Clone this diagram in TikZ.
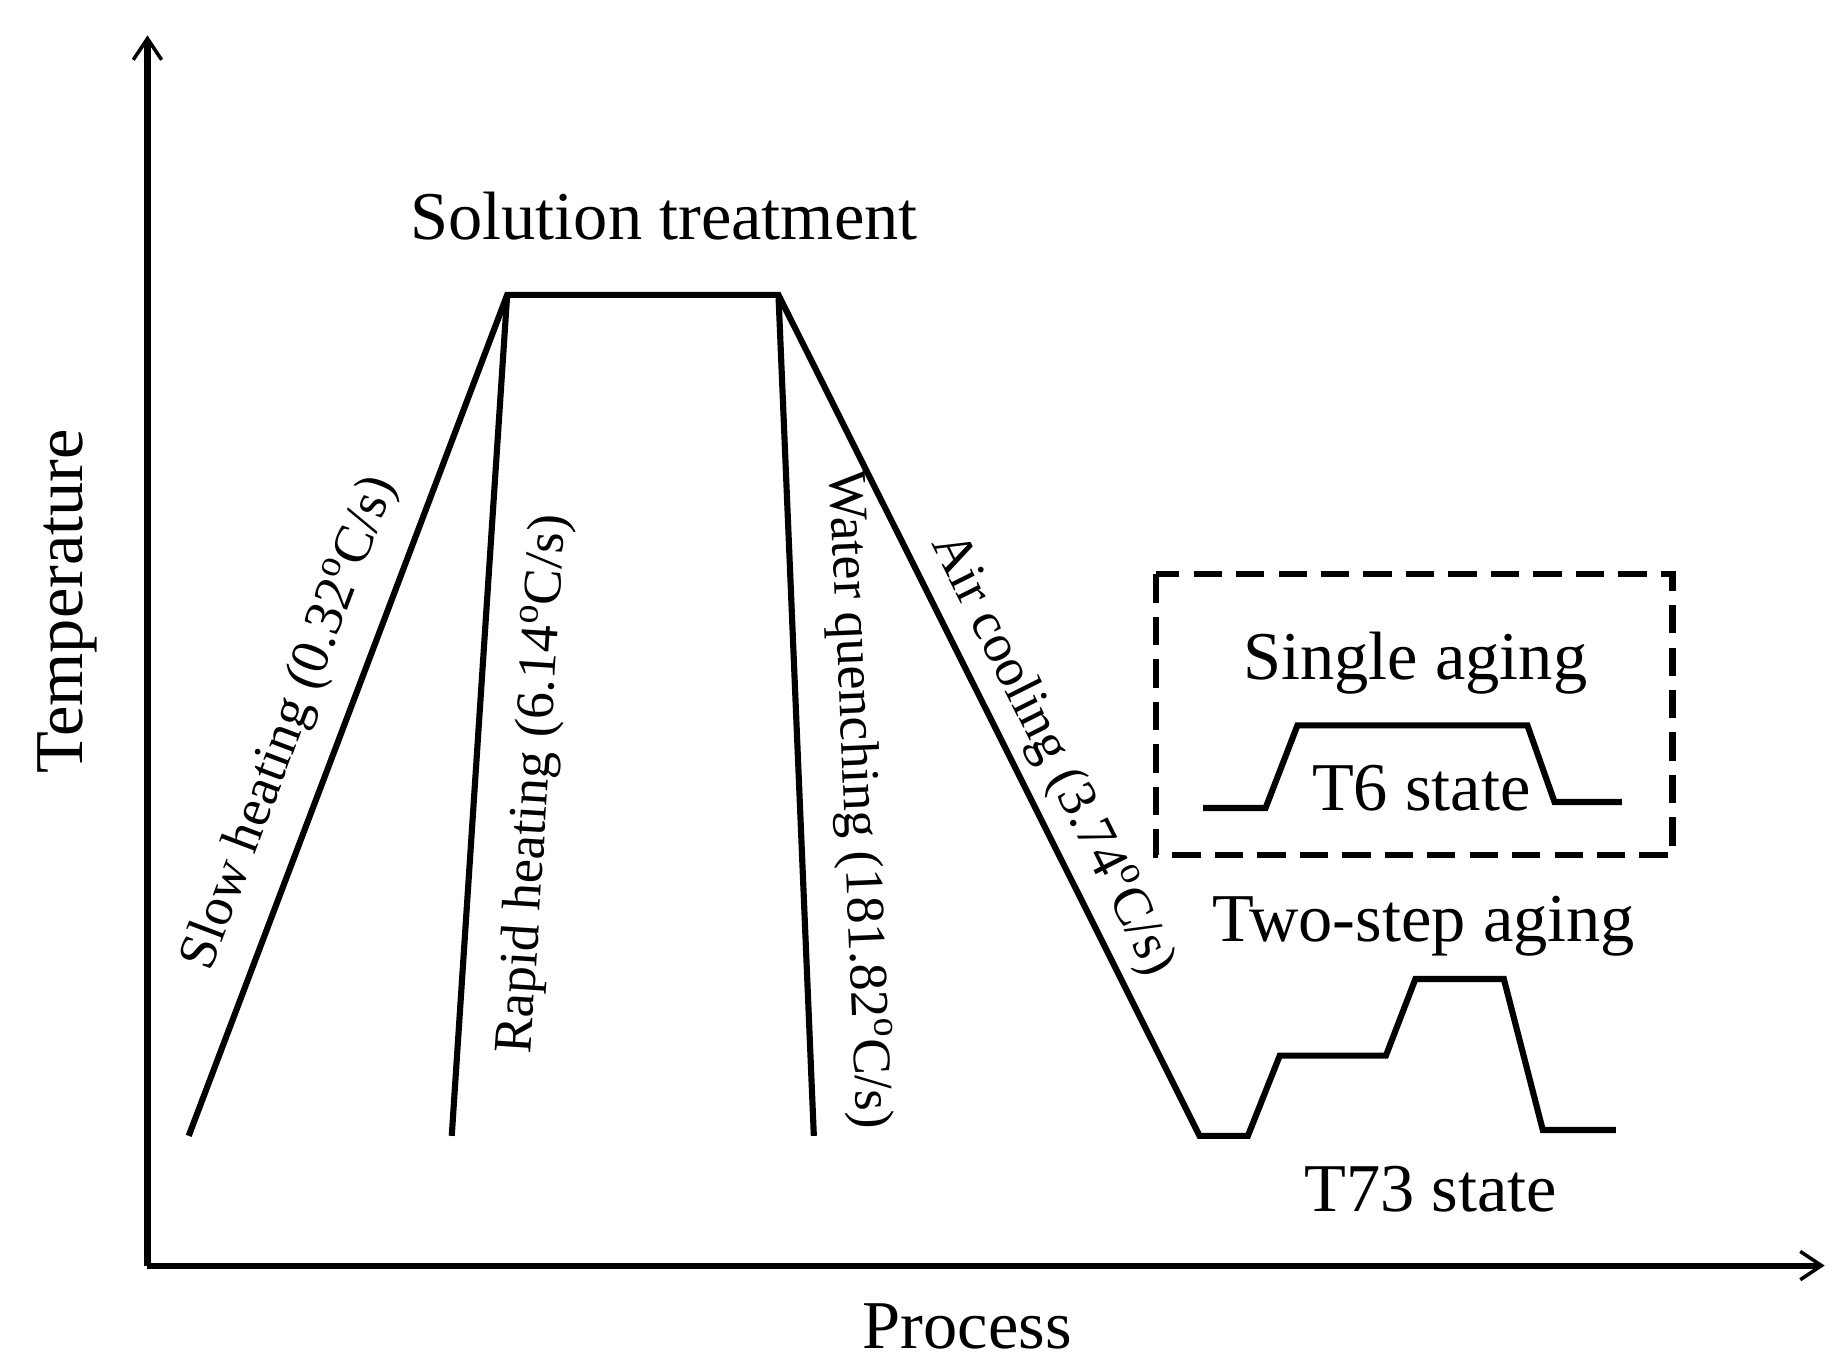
\documentclass[tikz,border=0pt]{standalone}
\usepackage{fontspec}
\usetikzlibrary{arrows.meta}
\setmainfont{Liberation Serif}
\begin{document}
\begin{tikzpicture}[x=0.5pt,y=-0.5pt,
  curve/.style={line width=2.6pt,line join=miter},
  ax/.style={line width=2.6pt,-{Straight Barb[length=9pt,width=12pt,line width=1.5pt]}},
  big/.style={font=\fontsize{29}{33}\selectfont},
  lab/.style={font=\fontsize{23}{26}\selectfont}]
\useasboundingbox (0,0) rectangle (1560,1161);
\coordinate (o) at (125,1073);
\coordinate (yt) at (125,30);
\coordinate (xt) at (1547,1073);
\draw[ax] (o) -- (yt);
\draw[ax] (o) -- (xt);
\coordinate (s0) at (160,963); \coordinate (p1) at (430,250); \coordinate (p2) at (660,250);
\coordinate (r0) at (383,963); \coordinate (w1) at (690,963);
\draw[curve] (s0) -- (p1) -- (p2) -- (1017,963) -- (1058,963) -- (1085,895) -- (1175,895) -- (1200,830) -- (1275,830) -- (1308,958) -- (1370,958);
\draw[curve] (r0) -- (p1);
\draw[curve] (p2) -- (w1);
\draw[line width=2.6pt,dash pattern=on 12pt off 6pt] (980,487) rectangle (1418,725);
\draw[curve] (1020,685) -- (1073,685) -- (1100,615) -- (1295,615) -- (1318,680) -- (1375,680);
\node[big] (st) at (563,183) {Solution treatment};
\node[big] (sa) at (1200,562) {Single aging};
\node[big,fill=white,inner sep=1pt] (t6) at (1205,668) {T6 state};
\node[big] (ta) at (1207,785) {Two-step aging};
\node[big] (t73) at (1213,1008) {T73 state};
\node[big] (pr) at (820,1125) {Process};
\node[big,rotate=90] (te) at (57,510) {Temperature};
\node[lab,rotate=69.3] (sh) at (246,613) {Slow heating (0.32\textsuperscript{o}C/s)};
\node[lab,rotate=86.3] (rh) at (453,665) {Rapid heating (6.14\textsuperscript{o}C/s)};
\node[lab,rotate=-87.6] (wq) at (727,678) {Water quenching (181.82\textsuperscript{o}C/s)};
\node[lab,rotate=-63.4] (ac) at (892,640) {Air cooling (3.74\textsuperscript{o}C/s)};
\end{tikzpicture}
\end{document}
